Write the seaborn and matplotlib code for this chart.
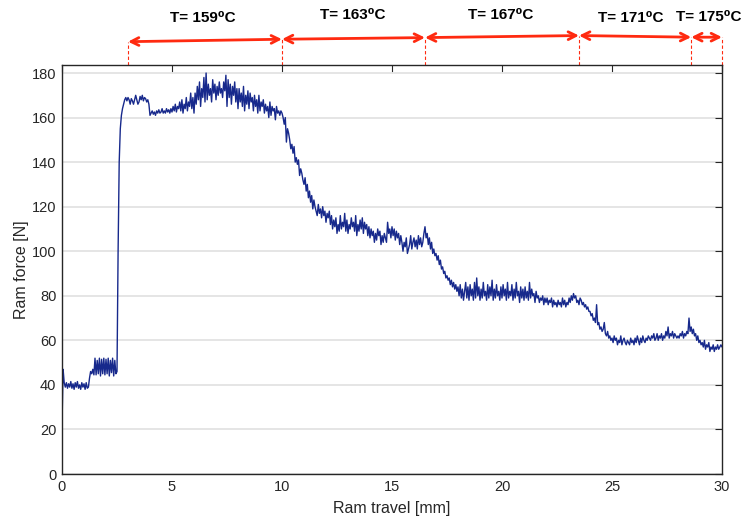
import numpy as np
import pandas as pd
import matplotlib
matplotlib.use("Agg")
import matplotlib.pyplot as plt
import seaborn as sns

force = [
    22, 47, 41, 39, 41, 38.5, 40.5, 39, 41.5, 38.5, 40.5, 38, 41, 39, 41.5, 38.5, 40, 38, 41, 39,          # 0
    40.5, 38, 41, 38.5, 39, 43, 46, 45, 47, 44.5, 52, 44.5, 51, 45, 52, 44, 51.5, 45, 52, 44.5,            # 1
    51.5, 45, 52, 44, 51, 45.5, 52, 44, 51, 45, 46, 100, 140, 155, 161, 164, 166, 168, 169, 167.5,         # 2
    169, 168, 166, 168.5, 167.5, 166, 168, 170, 168, 166, 167, 169.5, 168, 170, 167.5, 169, 168.5, 167, 168, 166,  # 3
    161, 162, 163, 161.5, 162.5, 161, 163, 162, 163.5, 162, 162.5, 164, 162, 163, 162, 164, 162.5, 163.5, 162, 164,  # 4
    162.5, 165, 163, 166, 162.5, 165, 164, 167, 163, 168, 162, 166, 164, 169, 163, 167, 165, 171, 164, 169,  # 5
    162, 171, 166, 174, 168, 176, 165, 173, 169, 178, 167, 180, 168, 175, 170, 173, 167, 177, 171, 175,    # 6
    168, 174, 170, 176, 171, 173, 169, 176, 172, 179, 165, 177, 169, 175, 166, 174, 170, 176, 167, 173,    # 7
    164, 173, 167, 171, 165, 174, 163, 170, 166, 172, 164, 171, 167, 169, 163, 170, 165, 168, 162, 170,    # 8
    163, 167, 165, 168, 162, 166, 163, 165, 160, 167, 161, 165, 163, 164, 159, 165, 162, 163, 161, 163,    # 9
    162, 160, 157, 160, 149, 155, 153, 150, 146, 148, 144, 147, 140, 142, 139, 141, 134, 137, 135, 132,    # 10
    130, 133, 127, 130, 124, 127, 122, 125, 119, 123, 120, 118, 116, 121, 117, 119, 115, 120, 116, 118,    # 11
    113, 117, 115, 118, 112, 116, 110, 114, 111, 115, 108, 112, 109, 116, 110, 113, 111, 117, 109, 114,    # 12
    108, 112, 110, 115, 111, 113, 109, 116, 107, 112, 109, 114, 110, 115, 108, 113, 110, 112, 107, 111,    # 13
    106, 110, 107, 109, 104, 108, 105, 110, 107, 109, 103, 107, 104, 108, 106, 104, 113, 108, 110, 106,    # 14
    111, 107, 110, 105, 109, 106, 108, 103, 107, 104, 100, 104, 102, 106, 99, 101, 103, 107, 101, 104,     # 15
    106, 102, 105, 101, 107, 103, 106, 102, 104, 108, 111, 106, 108, 103, 106, 101, 104, 99, 101, 98,      # 16
    99, 96, 98, 94, 96, 92, 93, 90, 91, 88, 89, 87, 88, 85, 87, 84, 86, 83, 85, 82,                        # 17
    84, 80, 85, 79, 83, 78, 82, 86, 79, 84, 78, 85, 80, 83, 78, 86, 79, 88, 80, 84,                        # 18
    78, 83, 79, 86, 80, 82, 78, 85, 79, 84, 80, 87, 78, 83, 79, 85, 80, 82, 78, 84,                        # 19
    79, 85, 80, 83, 78, 86, 79, 82, 80, 85, 78, 83, 79, 86, 80, 82, 77, 84, 79, 83,                        # 20
    78, 84, 79, 82, 78, 86, 79, 83, 80, 81, 77, 82, 79, 80, 77, 79, 78, 80, 76, 79,                        # 21
    77, 79, 76, 78, 77, 79, 75, 78, 76, 77, 75, 78, 76, 77, 75, 79, 76, 78, 75, 77,                        # 22
    76, 79, 77, 80, 78, 81, 79, 80, 77, 78, 76, 79, 78, 76, 77, 75, 76, 74, 75, 73,                        # 23
    73, 71, 72, 69, 70, 68, 76, 67, 68, 65, 66, 64, 65, 68, 63, 62, 64, 61, 62, 60,                        # 24
    61, 59, 62, 60, 61, 58, 60, 59, 62, 58, 60, 61, 59, 58, 60, 59, 58, 61, 59, 60,                        # 25
    58, 61, 59, 62, 60, 58, 61, 59, 62, 60, 59, 61, 60, 62, 61, 60, 62, 61, 63, 60,                        # 26
    61, 63, 60, 62, 61, 63, 60, 62, 61, 64, 62, 66, 61, 63, 62, 64, 61, 63, 62, 61,                        # 27
    62, 61, 63, 62, 64, 61, 63, 62, 64, 63, 70, 64, 66, 63, 65, 62, 63, 60, 62, 59,                        # 28
    60, 58, 59, 57, 60, 56, 58, 57, 59, 55, 57, 56, 58, 55, 57, 56, 58, 56, 57, 58,                        # 29
    57,                                                                                                    # 30
]
travel = np.linspace(0, 30, len(force))

# temperature zones: boundaries in mm and labels
zone_edges = [3.0, 10.0, 16.5, 23.5, 28.6, 30.0]
zone_labels = ["T= 159\u2070C", "T= 163\u2070C", "T= 167\u2070C", "T= 171\u2070C", "T= 175\u2070C"]
label_x = [6.4, 13.2, 19.95, 25.85, 29.4]

x_ticks = [0, 5, 10, 15, 20, 25, 30]
y_ticks = [0, 20, 40, 60, 80, 100, 120, 140, 160, 180]

sns.set_theme(style="white")
plt.rcParams["font.family"] = ["Liberation Sans", "DejaVu Sans"]

df = pd.DataFrame({"travel": travel, "force": force})

fig = plt.figure(figsize=(7.44, 5.20), dpi=100)
ax = fig.add_axes([62 / 744, 1 - 474 / 520, 660 / 744, 409 / 520])

sns.lineplot(data=df, x="travel", y="force", ax=ax, color="#17298c",
             linewidth=1.0, estimator=None, sort=False)

ax.set_xlim(0, 30)
ax.set_ylim(0, 183.6)
ax.set_xticks(x_ticks)
ax.set_yticks(y_ticks)
ax.yaxis.grid(True, color="#e3e3e3", linewidth=1.3)
ax.xaxis.grid(False)
ax.set_axisbelow(True)

for s in ax.spines.values():
    s.set_color("#262626")
    s.set_linewidth(1.0)
ax.tick_params(direction="in", length=5, width=0.8, color="#262626",
               top=True, right=True, labelsize=10.5, labelcolor="#262626", pad=4)
ax.set_xlabel("Ram travel [mm]", fontsize=11.5, color="#262626", labelpad=5)
ax.set_ylabel("Ram force [N]", fontsize=11.5, color="#262626", labelpad=2)

# temperature zone annotations above the axes
trans = ax.get_xaxis_transform()
arrow_y = [1.057, 1.063, 1.067, 1.072, 1.068, 1.068]
label_y = [1.115, 1.122, 1.122, 1.115, 1.117]
red = "#ff2a10"
for i in range(len(zone_edges) - 1):
    x0, x1 = zone_edges[i], zone_edges[i + 1]
    y0, y1 = arrow_y[i], arrow_y[i + 1]
    ax.annotate("", xy=(x1, y1), xytext=(x0, y0), xycoords=trans, textcoords=trans,
                arrowprops=dict(arrowstyle="<->", color=red, lw=2.0,
                                shrinkA=0, shrinkB=0, mutation_scale=14),
                annotation_clip=False)
    ax.text(label_x[i], label_y[i], zone_labels[i], transform=trans,
            ha="center", va="center", fontsize=11, fontweight="bold", color="black")
for xe, ye in zip(zone_edges, arrow_y):
    ax.plot([xe, xe], [1.0, ye], transform=trans, color=red, lw=0.8,
            linestyle=(0, (3, 2)), clip_on=False)

fig.savefig("out.png", dpi=100)
